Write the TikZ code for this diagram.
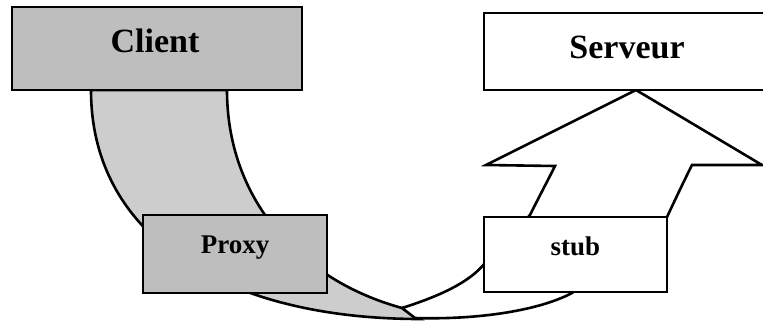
\documentclass[tikz,border=0pt]{standalone}
\usepackage{fontspec}
\setmainfont{Liberation Serif}
\definecolor{boxgray}{RGB}{190,190,190}
\definecolor{bandgray}{RGB}{205,205,205}
\begin{document}
\begin{tikzpicture}[x=1pt,y=-1pt, line width=2.6pt, line join=miter,
  box/.style={draw=black, line width=2.6pt, inner sep=0pt},
  big/.style={font=\bfseries\fontsize{34}{34}\selectfont, inner sep=0pt, anchor=base},
  small/.style={font=\bfseries\fontsize{27}{27}\selectfont, inner sep=0pt, anchor=base}]
\useasboundingbox (0,0) rectangle (763,322);
\clip (0,0) rectangle (763,322);
% gray band (client -> proxy -> junction)
\draw[fill=bandgray] (91,90) .. controls (91,240) and (230,319) .. (420,319)
  -- (402,308) .. controls (300,280) and (227,200) .. (227,90) -- cycle;
% white band and arrow (junction -> stub -> serveur)
\draw[fill=white] (402,308) .. controls (440,296) and (470,282) .. (485,263)
  -- (530,215) .. controls (540,195) and (548,180) .. (555,166)
  -- (486,165) -- (636,90) -- (762,165) -- (692,165)
  .. controls (682,185) and (675,200) .. (667,217)
  -- (572,293) .. controls (540,310) and (480,320) .. (415,318) -- cycle;
% boxes
\node[box, fill=boxgray, minimum width=290pt, minimum height=83pt] (client) at (157,48.5) {};
\node[box, fill=white, minimum width=320pt, minimum height=77pt] (serveur) at (644,51.5) {};
\node[box, fill=boxgray, minimum width=184pt, minimum height=78pt] (proxy) at (235,254) {};
\node[box, fill=white, minimum width=183pt, minimum height=75pt] (stub) at (575.5,254.5) {};
% labels
\node[big] (clientlbl) at (155,52) {Client};
\node[big] (serveurlbl) at (627,58) {Serveur};
\node[small] (proxylbl) at (235,253) {Proxy};
\node[small] (stublbl) at (575.5,255) {stub};
\end{tikzpicture}
\end{document}
